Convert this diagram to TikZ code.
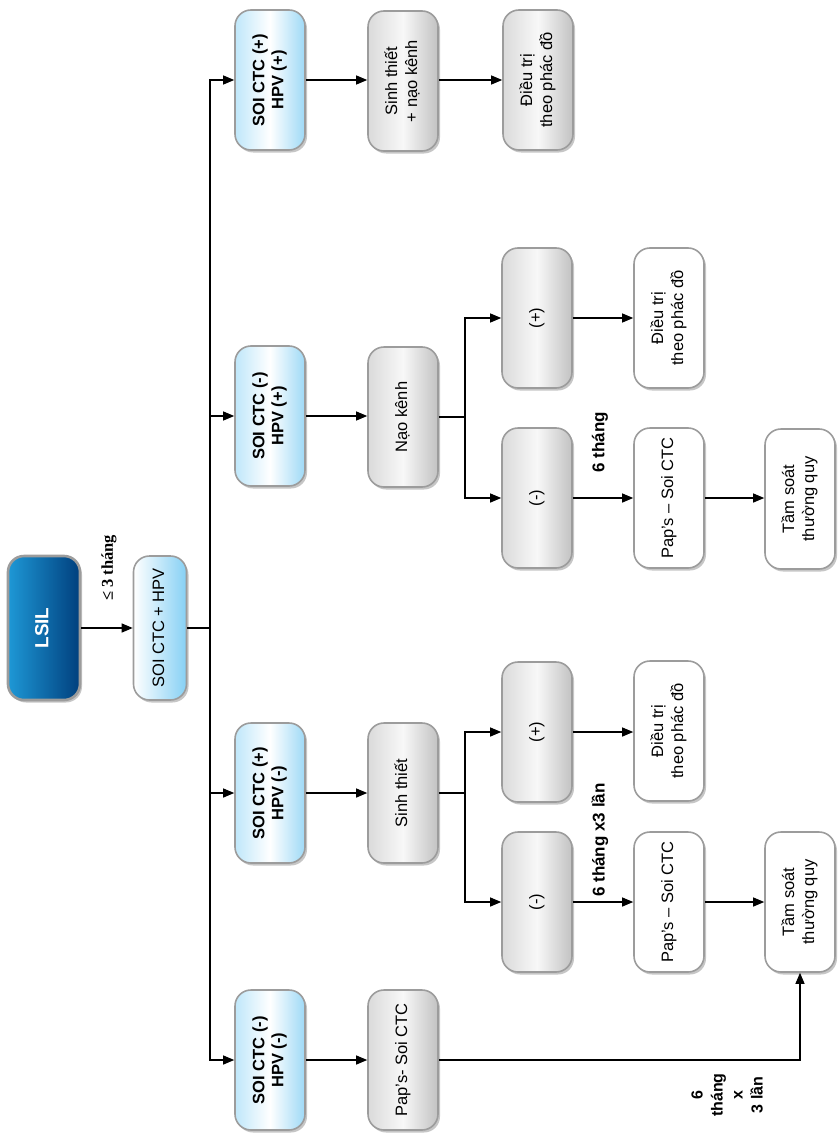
\documentclass[tikz,border=0pt]{standalone}
\usepackage{fontspec}
\usepackage{graphicx}
\setmainfont{Liberation Sans}
\newfontfamily\serifbf{Liberation Serif}
\usetikzlibrary{arrows.meta,shadows}
\definecolor{bordergray}{HTML}{9C9C9C}
\definecolor{lsilL}{HTML}{1E98D6}
\definecolor{lsilR}{HTML}{003F7D}
\definecolor{bluL}{HTML}{BFE7FA}
\definecolor{bluR}{HTML}{9ED9F6}
\definecolor{soiR}{HTML}{86D0F4}
\definecolor{grayL}{HTML}{DADADA}
\definecolor{grayM}{HTML}{F8F8F8}
\definecolor{grayR}{HTML}{C2C2C2}
\newcommand\rtx[1]{\rotatebox{90}{\begin{tabular}{@{}c@{}}#1\end{tabular}}}
\tikzset{
  box/.style={draw=bordergray, line width=1.6pt, rounded corners=16pt,
    minimum width=70pt, minimum height=140pt, inner sep=0pt,
    drop shadow={shadow xshift=2pt,shadow yshift=-2.5pt,opacity=0.45},
    font=\fontsize{16.5}{20}\selectfont},
  lsilbox/.style={box, line width=2.6pt, left color=lsilL, right color=lsilR, text=white,
    font=\fontsize{19}{22}\selectfont\bfseries},
  soibox/.style={box, left color=white, right color=soiR},
  bluebox/.style={box, left color=bluL, right color=bluR, middle color=white,
    font=\fontsize{16.5}{19}\selectfont\bfseries},
  graybox/.style={box, left color=grayL, right color=grayR, middle color=grayM},
  whitebox/.style={box, fill=white},
  ln/.style={line width=1.1pt},
  arr/.style={line width=1.1pt, -{Triangle[length=11pt,width=9pt]}},
  lbl/.style={font=\fontsize{17}{20}\selectfont\bfseries, rotate=90, align=center, inner sep=0pt}
}
\begin{document}
\begin{tikzpicture}[x=1pt,y=-1pt]
\useasboundingbox (0,0) rectangle (840,1137);
% root
\node[lsilbox, minimum width=72pt, minimum height=144pt] (lsil) at (44,628) {\rtx{LSIL}};
\node[soibox, minimum width=53pt, minimum height=144pt] (soi) at (160,628) {\rtx{SOI CTC + HPV}};
\node[lbl, font=\fontsize{16.5}{19}\selectfont\serifbf\bfseries] (lt) at (109,568) {≤ 3 tháng};
% level 1
\node[bluebox] (a1) at (270,80) {\rtx{SOI CTC (+)\\HPV (+)}};
\node[bluebox] (b1) at (270,416) {\rtx{SOI CTC (-)\\HPV (+)}};
\node[bluebox] (c1) at (270,793) {\rtx{SOI CTC (+)\\HPV (-)}};
\node[bluebox] (d1) at (270,1060) {\rtx{SOI CTC (-)\\HPV (-)}};
% level 2
\node[graybox] (a2) at (403,81) {\rtx{Sinh thiết\\+ nạo kênh}};
\node[graybox] (b2) at (403,417) {\rtx{Nạo kênh}};
\node[graybox] (c2) at (403,793) {\rtx{Sinh thiết}};
\node[graybox] (d2) at (403,1060) {\rtx{Pap’s- Soi CTC}};
% level 3
\node[graybox] (a3) at (538,80) {\rtx{Điều trị\\theo phác đồ}};
\node[graybox] (bp) at (537,318) {\rtx{(+)}};
\node[graybox] (bm) at (537,498) {\rtx{(-)}};
\node[graybox] (cp) at (537,732) {\rtx{(+)}};
\node[graybox] (cm) at (537,902) {\rtx{(-)}};
% level 4
\node[whitebox] (bpt) at (669,318) {\rtx{Điều trị\\theo phác đồ}};
\node[whitebox] (bmp) at (669,498) {\rtx{Pap’s – Soi CTC}};
\node[whitebox] (cpt) at (669,731) {\rtx{Điều trị\\theo phác đồ}};
\node[whitebox] (cmp) at (669,902) {\rtx{Pap’s – Soi CTC}};
% level 5
\node[whitebox] (bmt) at (800,499) {\rtx{Tầm soát\\thường quy}};
\node[whitebox] (cmt) at (800,902) {\rtx{Tầm soát\\thường quy}};
% labels
\node[lbl] (l6) at (600,442) {6 tháng};
\node[lbl] (l6x) at (600,840) {6 tháng x3 lần};
\node[lbl, font=\fontsize{16}{20}\selectfont\bfseries] (l6b) at (727,1095) {6\\tháng\\x\\3 lần};
% connectors
\draw[arr] (lsil.east) -- (lsil.east -| soi.west);
\coordinate (tr) at (210,628);
\draw[ln] (soi.east |- tr) -- (tr);
\draw[arr] (tr) |- (a1.west);
\draw[arr] (tr) |- (b1.west);
\draw[arr] (tr) |- (c1.west);
\draw[arr] (tr) |- (d1.west);
\draw[arr] (a1.east) -- (a2.west |- a1.east);
\draw[arr] (a2.east |- a1.east) -- (a3.west |- a1.east);
\draw[arr] (b1.east) -- (b2.west |- b1.east);
\draw[arr] (c1.east) -- (c2.west |- c1.east);
\draw[arr] (d1.east) -- (d2.west |- d1.east);
\coordinate (bj) at (465,417);
\draw[ln] (b2.east) -- (bj);
\draw[arr] (bj) |- (bp.west);
\draw[arr] (bj) |- (bm.west);
\coordinate (cj) at (465,793);
\draw[ln] (c2.east) -- (cj);
\draw[arr] (cj) |- (cp.west);
\draw[arr] (cj) |- (cm.west);
\draw[arr] (bp.east) -- (bpt.west |- bp.east);
\draw[arr] (bm.east) -- (bmp.west |- bm.east);
\draw[arr] (cp.east) -- (cpt.west |- cp.east);
\draw[arr] (cm.east) -- (cmp.west |- cm.east);
\draw[arr] (bmp.east) -- (bmt.west |- bmp.east);
\draw[arr] (cmp.east) -- (cmt.west |- cmp.east);
\draw[arr] (d2.east) -| (cmt.south);
\end{tikzpicture}
\end{document}
